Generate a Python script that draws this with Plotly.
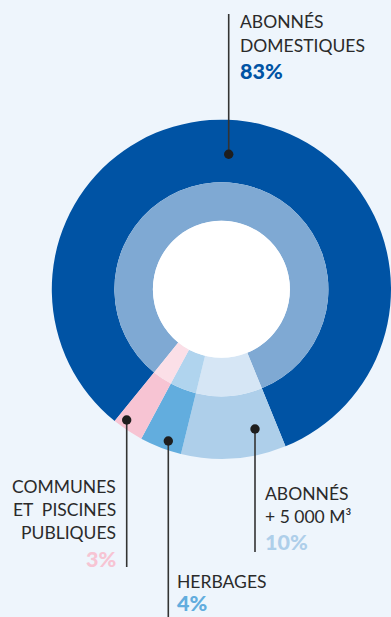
import plotly.graph_objects as go

# ---- data ----
categories = ["ABONNÉS DOMESTIQUES", "ABONNÉS + 5 000 M³", "HERBAGES",
              "COMMUNES ET PISCINES PUBLIQUES"]
values = [83, 10, 4, 3]
pct_labels = ["83%", "10%", "4%", "3%"]
label_lines = [["ABONNÉS", "DOMESTIQUES"],
               ["ABONNÉS", "+ 5 000 M³"],
               ["HERBAGES"],
               ["COMMUNES", "ET  PISCINES", "PUBLIQUES"]]

# ---- styles ----
outer_colors = ["#0053A4", "#AECFEA", "#62ADDE", "#F7C4D3"]
inner_colors = ["#7FA9D3", "#D6E6F5", "#B0D4EE", "#FBDFE7"]
BG = "#EEF5FC"
TEXT = "#2A2A2A"
FONT = "Lato"

W, H = 391, 617
CX, CY = 221.4, 289.3
R_OUT, R_MID, R_IN = 169.6, 107.0, 68.5
ROT = 219

# label layout (pixel positions): dot, line end, text x, anchor, baselines
label_layout = [
    dict(dot=(228.7, 154.3), end=14, tx=240, anchor="left", base=[28, 52], pbase=79),
    dict(dot=(255.0, 429.0), end=552, tx=265, anchor="left", base=[500, 523], pbase=550),
    dict(dot=(168.3, 441.0), end=617, tx=177, anchor="left", base=[588], pbase=611),
    dict(dot=(126.7, 420.0), end=567, tx=116, anchor="right", base=[493, 516, 539], pbase=567),
]


def domain(r):
    return dict(x=[(CX - r) / W, min(1.0, (CX + r) / W)],
                y=[(H - CY - r) / H, (H - CY + r) / H])


fig = go.Figure()
fig.add_trace(go.Pie(labels=categories, values=values, sort=False,
                     direction="clockwise", rotation=ROT, hole=R_MID / R_OUT,
                     marker=dict(colors=outer_colors, line=dict(width=0)),
                     textinfo="none", hoverinfo="label+percent",
                     domain=domain(R_OUT), showlegend=False))
fig.add_trace(go.Pie(labels=categories, values=values, sort=False,
                     direction="clockwise", rotation=ROT, hole=R_IN / R_MID,
                     marker=dict(colors=inner_colors, line=dict(width=0)),
                     textinfo="none", hoverinfo="label+percent",
                     domain=domain(R_MID), showlegend=False))

shapes = [dict(type="circle", xref="x", yref="y",
               x0=CX - R_IN, x1=CX + R_IN, y0=CY - R_IN, y1=CY + R_IN,
               fillcolor="white", line=dict(width=0))]
annotations = []
FS = 17.5
PFS = 21.5
DOT_R = 4.7
for i, lay in enumerate(label_layout):
    dx, dy = lay["dot"]
    shapes.append(dict(type="line", xref="x", yref="y", x0=dx, x1=dx,
                       y0=dy, y1=lay["end"], line=dict(color="#333333", width=1.6)))
    shapes.append(dict(type="circle", xref="x", yref="y",
                       x0=dx - DOT_R, x1=dx + DOT_R, y0=dy - DOT_R, y1=dy + DOT_R,
                       fillcolor="#1E1E1E", line=dict(width=0)))
    for line_txt, b in zip(label_lines[i], lay["base"]):
        annotations.append(dict(x=lay["tx"], y=b - 0.387 * FS, xref="x", yref="y",
                                text=line_txt, showarrow=False,
                                xanchor=lay["anchor"], yanchor="middle",
                                borderpad=0, borderwidth=0,
                                font=dict(family=FONT, size=FS, color=TEXT)))
    annotations.append(dict(x=lay["tx"], y=lay["pbase"] - 0.387 * PFS, xref="x", yref="y",
                            text=pct_labels[i], showarrow=False,
                            xanchor=lay["anchor"], yanchor="middle",
                            borderpad=0, borderwidth=0,
                            font=dict(family=FONT, size=PFS, color=outer_colors[i],
                                      weight=900)))

fig.update_layout(
    width=W, height=H,
    margin=dict(l=0, r=0, t=0, b=0),
    paper_bgcolor=BG, plot_bgcolor=BG,
    xaxis=dict(range=[0, W], visible=False, fixedrange=True),
    yaxis=dict(range=[H, 0], visible=False, fixedrange=True),
    shapes=shapes, annotations=annotations,
    showlegend=False,
)

fig.write_html("out.html", config={"displayModeBar": False},
               post_script="document.body.style.margin='0';"
                           "document.body.style.overflow='hidden';"
                           "document.body.style.background='" + BG + "';")
